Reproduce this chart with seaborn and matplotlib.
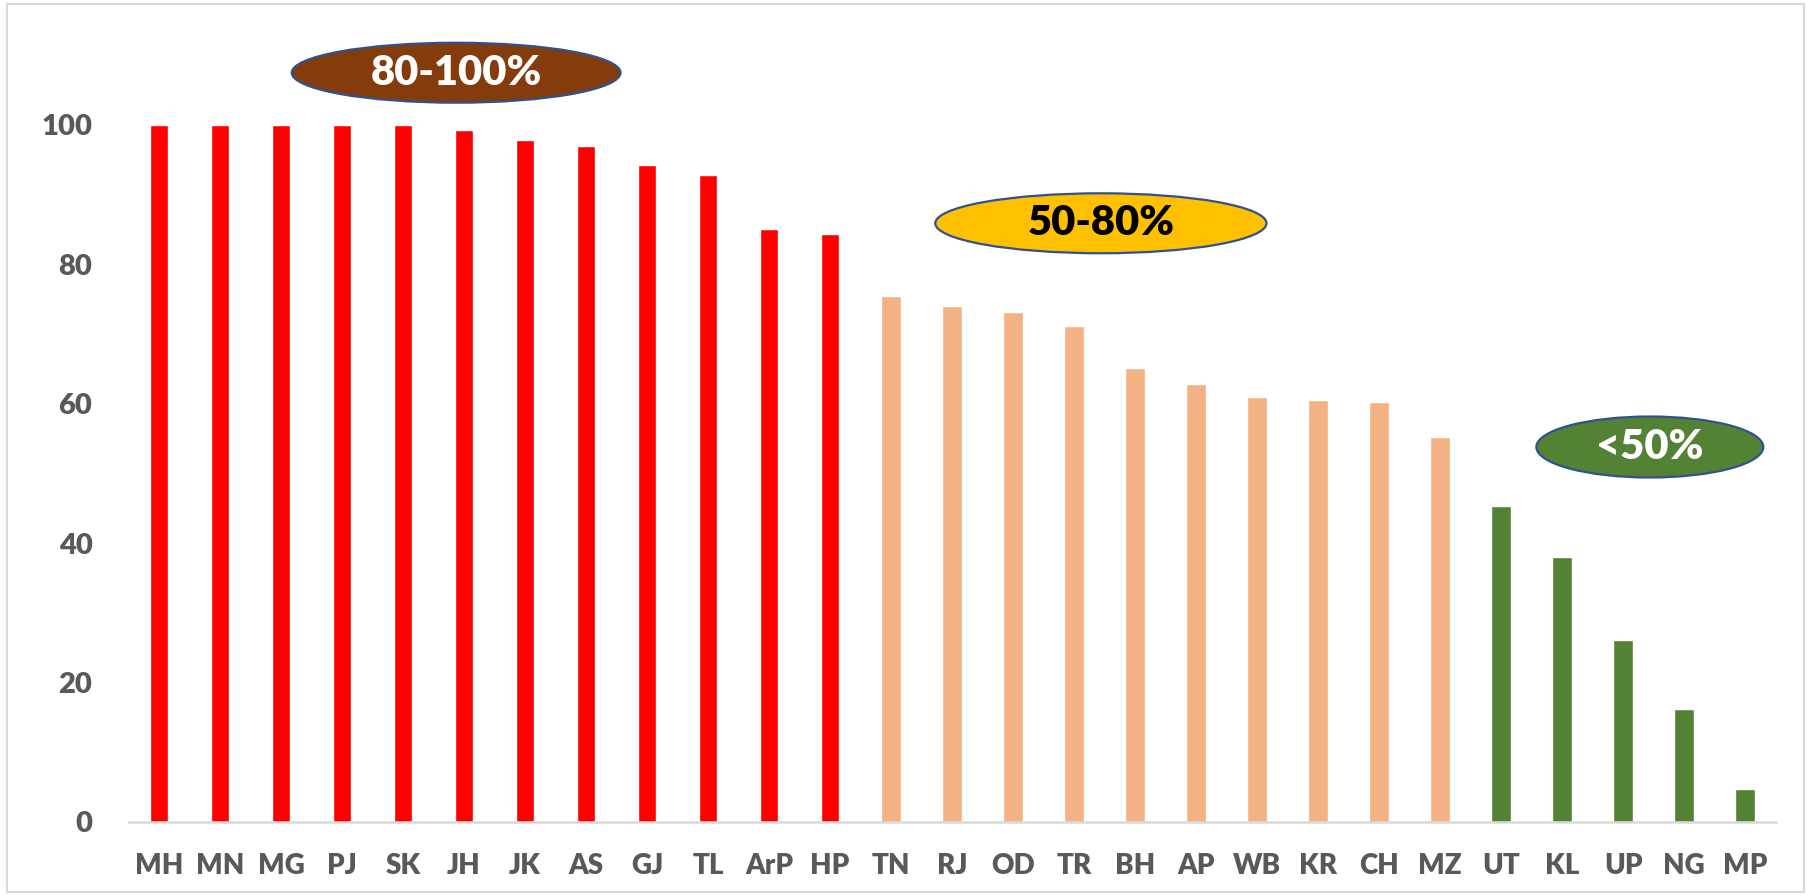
import pandas as pd
import numpy as np
import seaborn as sns
import matplotlib.pyplot as plt
from matplotlib.patches import Ellipse, Rectangle

# data
states = ['MH', 'MN', 'MG', 'PJ', 'SK', 'JH', 'JK', 'AS', 'GJ', 'TL', 'ArP', 'HP',
          'TN', 'RJ', 'OD', 'TR', 'BH', 'AP', 'WB', 'KR', 'CH', 'MZ',
          'UT', 'KL', 'UP', 'NG', 'MP']
values = [100, 100, 100, 100, 100, 99.3, 97.8, 97.0, 94.3, 92.8, 85.1, 84.3,
          75.5, 74.0, 73.2, 71.2, 65.2, 62.9, 61.0, 60.6, 60.2, 55.3,
          45.3, 38.0, 26.1, 16.2, 4.7]
groups = ['80-100%'] * 12 + ['50-80%'] * 10 + ['<50%'] * 5
yticks = [0, 20, 40, 60, 80, 100]

bar_colors = {'80-100%': '#FF0000', '50-80%': '#F4B183', '<50%': '#548235'}
badge_fill = {'80-100%': '#843C0C', '50-80%': '#FFC000', '<50%': '#548235'}
badge_text = {'80-100%': 'white', '50-80%': 'black', '<50%': 'white'}

df = pd.DataFrame({'state': states, 'value': values, 'group': groups})

sns.set_style('white')
plt.rcParams['font.family'] = ['Lato', 'DejaVu Sans']

fig = plt.figure(figsize=(18.11, 8.96), dpi=100)
ax = fig.add_axes([0.0710, 0.0826, 0.9094, 0.8868])

sns.barplot(data=df, x='state', y='value', hue='group', palette=bar_colors,
            dodge=False, width=0.34, legend=False, ax=ax, saturation=1)

# red bars are a touch narrower in the original
for p in ax.patches:
    if np.allclose(p.get_facecolor()[:3], (1, 0, 0)):
        cx = p.get_x() + p.get_width() / 2
        p.set_width(0.30)
        p.set_x(cx - 0.15)

ax.set_xlim(-0.5, 26.5)
ax.set_ylim(0, 114)
ax.set_yticks(yticks)
ax.set_xlabel('')
ax.set_ylabel('')
for s in ['left', 'right', 'top']:
    ax.spines[s].set_visible(False)
ax.spines['bottom'].set_color('#D9D9D9')
ax.spines['bottom'].set_linewidth(1.8)
ax.tick_params(axis='x', length=0, pad=22, labelsize=20, labelcolor='#595959')
ax.tick_params(axis='y', length=0, pad=26, labelsize=21, labelcolor='#595959')
for lab in ax.get_xticklabels() + ax.get_yticklabels():
    lab.set_fontweight('heavy')

# range badges
badges = [('80-100%', 4.87, 107.5, 5.39, 8.6),
          ('50-80%', 15.44, 85.9, 5.43, 8.6),
          ('<50%', 24.44, 53.8, 3.72, 8.75)]
for name, bx, by, bw, bh in badges:
    ax.add_patch(Ellipse((bx, by), bw, bh, facecolor=badge_fill[name],
                         edgecolor='#2F528F', linewidth=1.6, clip_on=False, zorder=5))
    ax.text(bx, by, name, ha='center', va='center', fontsize=30, fontweight='heavy',
            color=badge_text[name], zorder=6)

# light frame around the chart
fig.patches.append(Rectangle((0.004, 0.005), 0.992, 0.99, transform=fig.transFigure,
                             fill=False, edgecolor='#D9D9D9', linewidth=1.5))

fig.savefig('out.png', dpi=100)
